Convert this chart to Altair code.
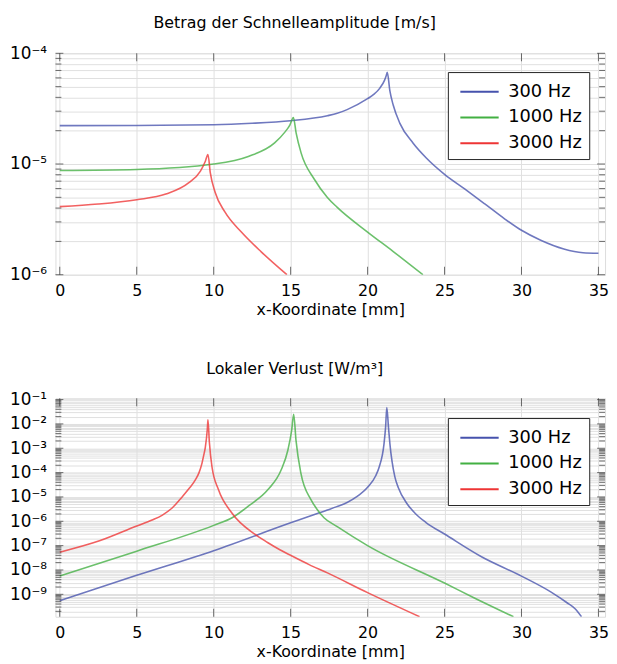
import altair as alt
import pandas as pd
import math

series = ["300 Hz", "1000 Hz", "3000 Hz"]
colors = ["#4652ad", "#42b042", "#ee3535"]

# ---- top panel: Betrag der Schnelleamplitude [m/s] ----
v_x_300 = [0, 5, 10, 12.5, 15, 17.39, 18.03, 18.67, 20, 20.4, 20.8, 21.1, 21.2, 21.28,
           21.45, 21.67, 22.1, 22.95, 23.8, 25, 26.33, 27.62, 28.9, 30, 31.25, 32.75, 34.0, 35]
v_y_300 = [2.22e-5, 2.23e-5, 2.26e-5, 2.33e-5, 2.46e-5, 2.73e-5, 2.87e-5, 3.1e-5, 3.89e-5,
           4.25e-5, 4.85e-5, 5.7e-5, 6.2e-5, 6.73e-5, 4.57e-5, 3.39e-5, 2.33e-5, 1.55e-5,
           1.14e-5, 8.07e-6, 5.93e-6, 4.36e-6, 3.2e-6, 2.52e-6, 2.05e-6, 1.71e-6, 1.58e-6,
           1.56e-6]
v_x_1000 = [0, 5, 10, 12.25, 13.96, 14.6, 14.95, 15.18, 15.36, 15.68, 16.54, 17.39, 18.03,
            20, 21.67, 23.6]
v_y_1000 = [8.75e-6, 8.93e-6, 1.0e-5, 1.17e-5, 1.55e-5, 1.92e-5, 2.25e-5, 2.63e-5, 1.9e-5,
            1.26e-5, 7.28e-6, 4.99e-6, 4.06e-6, 2.43e-6, 1.62e-6, 1.0e-6]
v_x_3000 = [0, 2.5, 5, 6.89, 8.39, 9.14, 9.46, 9.63, 9.78, 10.1, 10.74, 11.8, 13.09, 14.76]
v_y_3000 = [4.12e-6, 4.35e-6, 4.76e-6, 5.35e-6, 6.79e-6, 8.63e-6, 1.06e-5, 1.22e-5, 8.34e-6,
            5.53e-6, 3.67e-6, 2.43e-6, 1.61e-6, 1.0e-6]

# ---- bottom panel: Lokaler Verlust [W/m^3] ----
p_x_300 = [0, 5, 10, 15, 17.39, 18.0, 18.67, 19.3, 20, 20.53, 20.75, 21.07, 21.17, 21.25,
           21.36, 21.45, 21.77, 22.0, 22.52, 23.1, 23.8, 25, 27.4, 30, 31.9, 32.96, 33.5, 33.9]
p_y_300 = [5.5e-10, 6e-9, 6.2e-8, 8.7e-7, 2.9e-6, 4e-6, 5.9e-6, 1.02e-5, 2.5e-5, 7.4e-5,
           1.66e-4, 1.55e-3, 7.2e-3, 4.7e-2, 7e-3, 1.55e-3, 6.8e-5, 2.4e-5, 5.8e-6, 2.1e-6,
           8.9e-7, 3e-7, 3.5e-8, 5.6e-9, 1.26e-9, 4.5e-10, 2.5e-10, 1.2e-10]
p_x_1000 = [0, 5, 10, 11.2, 12.25, 13.53, 14.39, 14.82, 15.07, 15.2, 15.35, 15.67, 16.32,
            16.7, 17.17, 18.03, 20, 25, 26.97, 29.48]
p_y_1000 = [5.7e-9, 5.9e-8, 6.8e-7, 1.4e-6, 4.2e-6, 2e-5, 1.3e-4, 8.3e-4, 5.6e-3, 2.5e-2,
            2.1e-3, 9.3e-5, 7.8e-6, 3.2e-6, 1.4e-6, 6e-7, 1e-7, 2.9e-9, 6.9e-10, 1.2e-10]
p_x_3000 = [0, 2.58, 5, 6.0, 6.67, 7.3, 7.95, 8.4, 8.81, 9.05, 9.24, 9.35, 9.46, 9.59, 9.63,
            9.72, 9.89, 10.31, 11.17, 12.67, 13.5, 14.3, 15.0, 16.2, 17.39, 20, 23.38]
p_y_3000 = [5.4e-8, 1.58e-7, 6.4e-7, 1.12e-6, 1.8e-6, 3.5e-6, 1.0e-5, 2.2e-5, 5e-5, 1e-4,
            2.4e-4, 5e-4, 1.12e-3, 6.3e-3, 1.48e-2, 1.8e-3, 1.74e-4, 2e-5, 2.24e-6, 2.95e-7,
            1.35e-7, 6.8e-8, 4e-8, 1.66e-8, 7.6e-9, 1.17e-9, 1.2e-10]

x_ticks = [0, 5, 10, 15, 20, 25, 30, 35]
top_decades = [1e-6, 1e-5, 1e-4]
bot_decades = [1e-9, 1e-8, 1e-7, 1e-6, 1e-5, 1e-4, 1e-3, 1e-2, 1e-1]
top_domain = [1e-6, 1e-4]
bot_domain = [1.2e-10, 0.113]
x_domain = [-0.28, 35.43]

FONT = "DejaVu Sans"
W = 556
GRID = "#e0e0e0"
TICKC = "#333333"

SUP = {"-": "\u207b", "0": "\u2070", "1": "\u00b9", "2": "\u00b2", "3": "\u00b3",
       "4": "\u2074", "5": "\u2075", "6": "\u2076", "7": "\u2077", "8": "\u2078", "9": "\u2079"}


def label_expr(decades):
    e = "round(log(datum.value)/LN10)"
    chain = ""
    for d in decades:
        k = round(math.log10(d))
        s = "10" + "".join(SUP[c] for c in str(k))
        chain += f"{e}=={k}?'{s}':"
    chain += "''"
    return f"abs(datum.value/pow(10,{e})-1)<1e-6?({chain}):''"


def minor_values(decades, domain):
    vals = []
    for d in [decades[0] / 10] + decades:
        for m in range(2, 10):
            v = d * m
            if domain[0] <= v <= domain[1]:
                vals.append(v)
    return vals


def long_df(xs_list, ys_list):
    rows = []
    for s, xs, ys in zip(series, xs_list, ys_list):
        for i, (x, y) in enumerate(zip(xs, ys)):
            rows.append({"x": x, "y": y, "f": s, "o": i})
    return pd.DataFrame(rows)


def panel(df, domain, decades, H, title, legend_y):
    xs = alt.Scale(domain=x_domain, nice=False, zero=False)
    ys = alt.Scale(type="log", domain=domain, nice=False)
    minors = minor_values(decades, domain)
    yvals = sorted(decades + minors)

    ax = alt.Axis(
        values=x_ticks, grid=True, gridColor=GRID, ticks=False, tickSize=0, domain=False,
        labelPadding=8, labelFontSize=16, labelFont=FONT, labelColor="black",
        title="x-Koordinate [mm]", titleFontSize=16, titleFont=FONT,
        titleFontWeight="normal", titleColor="black", titlePadding=3)
    ay = alt.Axis(
        values=yvals, labelExpr=label_expr(decades), labelOverlap=False, grid=True,
        gridColor=GRID, ticks=False, tickSize=0, domain=False, labelPadding=9,
        labelFontSize=17, labelFont=FONT, labelColor="black", title=None)

    lines = alt.Chart(df).mark_line(strokeWidth=1.6, opacity=0.78, clip=True,
                                    interpolate="monotone").encode(
        x=alt.X("x:Q", scale=xs, axis=ax),
        y=alt.Y("y:Q", scale=ys, axis=ay),
        color=alt.Color("f:N", scale=alt.Scale(domain=series, range=colors), legend=alt.Legend(
            title=None, orient="none", legendX=397, legendY=legend_y, fillColor="white",
            strokeColor="#222222", padding=7, labelFontSize=18, labelFont=FONT,
            labelColor="black", symbolType="M-1.65,0H1.65", symbolSize=552,
            symbolStrokeWidth=2, symbolOffset=12, labelOffset=16, rowPadding=4,
            symbolOpacity=1)),
        order="o:Q",
    )

    def yt(vals, xpos, size):
        return alt.Chart(pd.DataFrame({"y": vals})).mark_tick(
            orient="horizontal", size=size, thickness=1, color=TICKC).encode(
            y=alt.Y("y:Q", scale=ys, axis=ay), x=alt.value(xpos))

    def xt(ypos):
        return alt.Chart(pd.DataFrame({"x": x_ticks})).mark_tick(
            orient="vertical", size=8, thickness=1, color=TICKC).encode(
            x=alt.X("x:Q", scale=xs, axis=ax), y=alt.value(ypos))

    layers = [lines,
              yt(decades, 4, 8), yt(minors, 3, 6),
              yt(decades, W - 4, 8), yt(minors, W - 3, 6),
              xt(4), xt(H - 4)]
    return alt.layer(*layers).properties(
        width=W, height=H,
        title=alt.TitleParams(text=title, fontSize=16, fontWeight="normal", font=FONT,
                              color="black", frame="group", anchor="middle", dx=-36,
                              offset=14))


top = panel(long_df([v_x_300, v_x_1000, v_x_3000], [v_y_300, v_y_1000, v_y_3000]),
            top_domain, top_decades, 224, "Betrag der Schnelleamplitude [m/s]", 19)
bottom = panel(long_df([p_x_300, p_x_1000, p_x_3000], [p_y_300, p_y_1000, p_y_3000]),
               bot_domain, bot_decades, 221, "Lokaler Verlust [W/m\u00b3]", 20)

chart = alt.vconcat(top, bottom, spacing=42).resolve_scale(
    color="independent").properties(
    padding={"left": 1, "top": 2, "right": 0, "bottom": 0}).configure_view(
    stroke="#555555", strokeWidth=1.5).configure(font=FONT)

chart.save("out.html", embed_options={"renderer": "svg", "actions": False})
